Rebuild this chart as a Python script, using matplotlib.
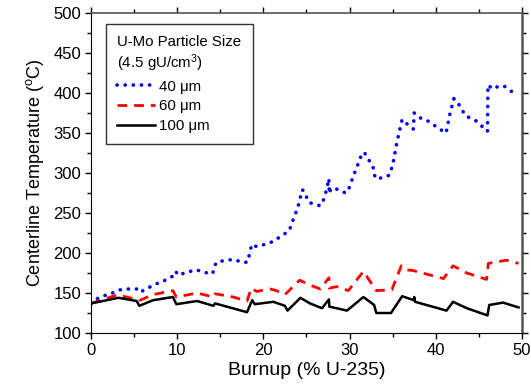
import matplotlib
matplotlib.use("Agg")
import matplotlib.pyplot as plt

plt.rcParams['font.family'] = ['Liberation Sans', 'DejaVu Sans']
plt.rcParams['mathtext.fontset'] = 'custom'
plt.rcParams['mathtext.rm'] = 'Liberation Sans'
plt.rcParams['mathtext.it'] = 'Liberation Sans:italic'

# 40 um series
x40 = [0, 0.7, 1.4, 2.1, 2.8, 3.4, 4.1, 4.8, 5.4, 5.7, 6.4, 7.1, 7.7, 8.4, 9.05, 9.6, 9.8, 10.2,
       10.8, 11.5, 12.2, 12.8, 13.5, 14.1, 14.3, 14.5, 15.2, 15.8, 16.5, 17.1, 17.75, 18.2, 18.45,
       18.7, 19.2, 19.9, 20.6, 21.2, 21.9, 22.6, 23.0, 23.5, 24.0, 24.5, 24.75, 25.0, 25.3, 26.0,
       26.6, 26.9, 27.3, 27.6, 27.65, 27.8, 28.3, 29.0, 29.6, 29.9, 30.4, 30.9, 31.4, 31.7, 32.05,
       32.5, 32.8, 32.9, 33.2, 33.9, 34.6, 35.0, 35.5, 35.8, 36.1, 36.7, 37.4, 37.5, 37.96, 38.6,
       39.3, 39.9, 40.6, 41.2, 41.6, 42.1, 42.6, 43.0, 43.4, 44.1, 44.7, 45.4, 46.0, 46.05, 46.6,
       47.2, 47.9, 48.5, 49.2, 49.5]
t40 = [137, 143, 146, 149, 151, 154, 155, 155, 155, 151, 155, 159, 162, 165, 168, 172, 177, 172,
       175, 177, 179, 177, 175, 174, 181, 188, 190, 191, 192, 190, 188, 189, 203,
       211, 208, 210, 212, 215, 220, 225, 228, 243, 257, 279, 277, 270, 263, 261,
       259, 264, 278, 293, 274, 280, 281, 277, 275, 280, 295, 309, 323, 326, 319,
       312, 305, 297, 292, 295, 297, 310, 339, 353, 367, 361, 355, 375, 370, 367,
       364, 359, 354, 350, 372, 393, 387, 380, 372, 368, 365, 358, 352, 410, 405,
       408, 409, 404, 399, 397]

# 60 um series
x60 = [0, 3.0, 3.7, 5.3, 5.7, 7.2, 9.5, 9.9, 12.3, 14.2, 14.4, 16.5, 18.1, 18.6, 19.2, 20.8,
       21.5, 22.5, 24.2, 25.4, 26.6, 27.6, 27.65, 28.5, 29.85, 31.6, 33.1, 34.9, 36.0, 36.6,
       37.4, 40.9, 42.0, 43.6, 45.9, 46.1, 48.2, 49.6]
t60 = [137, 147.5, 146, 142, 141, 148, 153, 145, 150, 145, 149, 145, 140, 156, 152, 155,
       153, 148, 166, 160, 155, 169, 156, 158, 153, 177, 153, 154, 184, 179,
       178, 168, 184, 175, 167, 187, 191, 187]

# 100 um series
x100 = [0, 3.2, 5.3, 5.6, 7.2, 9.5, 9.9, 12.3, 14.2, 14.4, 18.1, 18.7, 19.0, 21.15, 22.5, 22.8,
        24.3, 25.4, 26.8, 27.6, 27.65, 29.7, 31.6, 32.85, 33.1, 34.8, 36.1, 37.45, 37.5, 37.6,
        41.25, 42.0, 43.6, 46.0, 46.2, 47.8, 49.6]
t100 = [137, 144, 140, 134, 141, 145, 136, 140, 134, 137, 126, 141, 136, 139, 134, 128,
        144, 137, 131, 142, 133, 128, 145, 135, 125, 125, 146, 141, 145, 139,
        128, 139, 131, 122, 135, 138, 132]

labels = ["40 \u03bcm", "60 \u03bcm", "100 \u03bcm"]
legend_title = "U-Mo Particle Size\n(4.5 gU/cm$^{3}$)"

fig = plt.figure(figsize=(5.31, 3.91), dpi=100)
ax = fig.add_axes([0.1714, 0.1483, 0.8116, 0.8185])

ax.plot(x40, t40, color='#0000ff', lw=2.6, linestyle=(0, (0.05, 2.2)),
        dash_capstyle='round', solid_joinstyle='round', label=labels[0])
ax.plot(x60, t60, color='#ff0000', lw=2.0, linestyle=(0, (3.5, 2.5)), label=labels[1])
ax.plot(x100, t100, color='black', lw=1.8, label=labels[2])

ax.set_xlim(0, 50)
ax.set_ylim(100, 500)
ax.set_xticks(range(0, 51, 10))
ax.set_xticks(range(5, 50, 10), minor=True)
ax.set_yticks(range(100, 501, 50))
ax.set_yticks(range(125, 500, 50), minor=True)
ax.tick_params(axis='both', which='major', direction='out', length=4, width=1,
               labelsize=12, pad=3)
ax.tick_params(axis='both', which='minor', direction='out', length=3, width=1)
ax.tick_params(axis='both', which='both', top=True, right=True)

for s in ['top', 'right']:
    ax.spines[s].set_color('#555555')
ax.spines['right'].set_linewidth(1.8)
ax.spines['top'].set_linewidth(1.2)

ax.set_xlabel("Burnup (% U-235)", fontsize=14, labelpad=3)
ax.set_ylabel("Centerline Temperature ($^{\\rm o}$C)", fontsize=13, labelpad=5)

leg = ax.legend(title=legend_title, loc='upper left', bbox_to_anchor=(0.035, 0.966),
                borderaxespad=0,
                fontsize=10.8, title_fontsize=10.8, frameon=True, fancybox=False,
                edgecolor='black', handlelength=2.5, handletextpad=0.3,
                labelspacing=0.38, borderpad=0.75, alignment='left')
leg.get_frame().set_linewidth(1.0)

fig.savefig("out.png", dpi=100)
